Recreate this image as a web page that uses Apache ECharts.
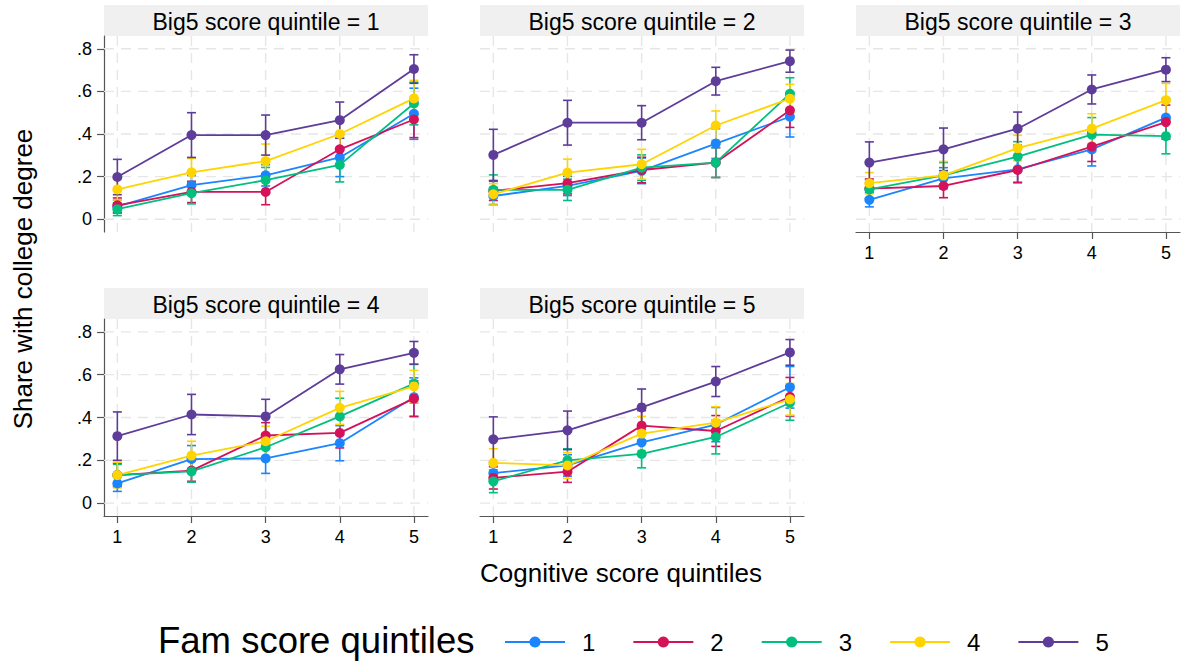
<!DOCTYPE html>
<html><head><meta charset="utf-8">
<script src="https://cdn.jsdelivr.net/npm/echarts@6/dist/echarts.min.js"></script>
<style>html,body{margin:0;padding:0;background:#fff}#c{width:1182px;height:662px}</style>
</head><body><div id="c"></div><script>
// ---- data ----
const famScore = ['1', '2', '3', '4', '5'];
const cognitive = [1, 2, 3, 4, 5];
const yTicks = [0, 0.2, 0.4, 0.6, 0.8];
const panelTitles = ['Big5 score quintile = 1', 'Big5 score quintile = 2', 'Big5 score quintile = 3', 'Big5 score quintile = 4', 'Big5 score quintile = 5'];

// means per Fam score quintile (rows 1..5), per cognitive quintile (cols 1..5)
const meanB1 = [
  [0.060, 0.160, 0.206, 0.290, 0.495],
  [0.065, 0.128, 0.128, 0.328, 0.468],
  [0.047, 0.122, 0.183, 0.255, 0.543],
  [0.140, 0.220, 0.273, 0.400, 0.567],
  [0.198, 0.395, 0.395, 0.465, 0.705]
];
const ciB1 = [
  [0.030, 0.045, 0.050, 0.090, 0.120],
  [0.035, 0.050, 0.060, 0.070, 0.085],
  [0.030, 0.050, 0.060, 0.080, 0.100],
  [0.050, 0.065, 0.080, 0.070, 0.085],
  [0.083, 0.105, 0.094, 0.085, 0.067]
];
const meanB2 = [
  [0.109, 0.156, 0.227, 0.355, 0.481],
  [0.133, 0.169, 0.231, 0.266, 0.511],
  [0.138, 0.138, 0.242, 0.266, 0.589],
  [0.117, 0.219, 0.258, 0.440, 0.566],
  [0.302, 0.453, 0.453, 0.648, 0.742]
];
const ciB2 = [
  [0.040, 0.045, 0.060, 0.070, 0.095],
  [0.045, 0.050, 0.060, 0.070, 0.080],
  [0.070, 0.050, 0.060, 0.070, 0.075],
  [0.050, 0.063, 0.070, 0.068, 0.067],
  [0.120, 0.105, 0.080, 0.065, 0.052]
];
const meanB3 = [
  [0.091, 0.192, 0.234, 0.328, 0.477],
  [0.144, 0.156, 0.231, 0.341, 0.456],
  [0.140, 0.206, 0.294, 0.397, 0.390],
  [0.169, 0.206, 0.334, 0.425, 0.559],
  [0.266, 0.328, 0.425, 0.609, 0.702]
];
const ciB3 = [
  [0.033, 0.050, 0.060, 0.078, 0.090],
  [0.045, 0.055, 0.060, 0.070, 0.080],
  [0.045, 0.060, 0.070, 0.080, 0.083],
  [0.050, 0.065, 0.060, 0.070, 0.078],
  [0.097, 0.100, 0.078, 0.068, 0.056]
];
const meanB4 = [
  [0.092, 0.206, 0.209, 0.280, 0.495],
  [0.131, 0.152, 0.316, 0.328, 0.488],
  [0.131, 0.148, 0.261, 0.405, 0.558],
  [0.131, 0.222, 0.289, 0.445, 0.545],
  [0.313, 0.414, 0.405, 0.625, 0.702]
];
const ciB4 = [
  [0.037, 0.063, 0.070, 0.082, 0.090],
  [0.055, 0.050, 0.060, 0.070, 0.083],
  [0.050, 0.050, 0.060, 0.085, 0.090],
  [0.060, 0.067, 0.070, 0.077, 0.075],
  [0.113, 0.094, 0.080, 0.069, 0.053]
];
const meanB5 = [
  [0.140, 0.176, 0.284, 0.367, 0.541],
  [0.118, 0.147, 0.362, 0.337, 0.497],
  [0.102, 0.200, 0.230, 0.309, 0.469],
  [0.188, 0.176, 0.325, 0.376, 0.485],
  [0.298, 0.340, 0.447, 0.568, 0.704]
];
const ciB5 = [
  [0.040, 0.050, 0.060, 0.080, 0.097],
  [0.052, 0.050, 0.070, 0.072, 0.090],
  [0.053, 0.054, 0.065, 0.079, 0.082],
  [0.066, 0.060, 0.080, 0.074, 0.074],
  [0.105, 0.090, 0.086, 0.070, 0.060]
];

// ---- build ----
const means = [meanB1, meanB2, meanB3, meanB4, meanB5];
const cis = [ciB1, ciB2, ciB3, ciB4, ciB5];
const FONT = '"Liberation Sans", Arial, Helvetica, sans-serif';
const colors = ['#1a85ff', '#d41159', '#00bf7f', '#ffd400', '#5e3c99'];
const axisColor = '#555555';
const gridPos = [
  {left: 104, top: 36, width: 324, height: 196},
  {left: 480, top: 36, width: 324, height: 196},
  {left: 856, top: 36, width: 324, height: 196},
  {left: 104, top: 319, width: 324, height: 197},
  {left: 480, top: 319, width: 324, height: 197}
];
const showY = [true, false, false, true, false];
const showX = [false, false, true, true, true];

const grids = [], xAxes = [], yAxes = [], series = [], graphics = [];

gridPos.forEach((p, g) => {
  grids.push(Object.assign({containLabel: false}, p));
  xAxes.push({
    type: 'value', gridIndex: g, min: 0.82, max: 5.19,
    axisLine: {show: showX[g], onZero: false, lineStyle: {color: axisColor, width: 1.2}},
    axisTick: {show: showX[g], customValues: cognitive, length: 7, lineStyle: {color: axisColor, width: 1.2}},
    axisLabel: {show: showX[g], customValues: cognitive, fontSize: 18, color: '#000', margin: 12, fontFamily: FONT},
    splitLine: {show: false}
  });
  yAxes.push({
    type: 'value', gridIndex: g, min: -0.06, max: 0.86,
    axisLine: {show: showY[g], onZero: false, lineStyle: {color: axisColor, width: 1.2}},
    axisTick: {show: showY[g], customValues: yTicks, length: 7, lineStyle: {color: axisColor, width: 1.2}},
    axisLabel: {show: showY[g], customValues: yTicks, fontSize: 18, color: '#000', margin: 12, fontFamily: FONT,
      formatter: v => (Math.abs(v) < 1e-9 ? '0' : '.' + Math.round(v * 10))},
    splitLine: {show: false}
  });

  // dashed grid lines
  const gridData = cognitive.map(x => [x, 0, 0]).concat(yTicks.map(y => [1, y, 1]));
  series.push({
    type: 'custom', name: 'gridlines', xAxisIndex: g, yAxisIndex: g, silent: true, animation: false, z: 1,
    data: gridData, clip: false,
    renderItem: (params, api) => {
      const cs = params.coordSys;
      const pt = api.coord([api.value(0), api.value(1)]);
      const style = {stroke: '#e6e6e6', lineWidth: 1.4, lineDash: [10, 7]};
      if (api.value(2) === 0) {
        return {type: 'line', shape: {x1: pt[0], y1: cs.y, x2: pt[0], y2: cs.y + cs.height}, style};
      }
      return {type: 'line', shape: {x1: cs.x, y1: pt[1], x2: cs.x + cs.width, y2: pt[1]}, style};
    }
  });

  for (let k = 0; k < 5; k++) {
    const m = means[g][k], c = cis[g][k];
    series.push({
      type: 'custom', name: 'ci' + k, xAxisIndex: g, yAxisIndex: g, silent: true, animation: false, z: 2,
      data: cognitive.map((x, i) => [x, m[i] - c[i], m[i] + c[i]]),
      encode: {x: 0, y: [1, 2]},
      renderItem: (params, api) => {
        const lo = api.coord([api.value(0), api.value(1)]);
        const hi = api.coord([api.value(0), api.value(2)]);
        const w = 4.5;
        const style = {stroke: colors[k], lineWidth: 1.6};
        return {type: 'group', children: [
          {type: 'line', shape: {x1: lo[0], y1: lo[1], x2: hi[0], y2: hi[1]}, style},
          {type: 'line', shape: {x1: lo[0] - w, y1: lo[1], x2: lo[0] + w, y2: lo[1]}, style},
          {type: 'line', shape: {x1: hi[0] - w, y1: hi[1], x2: hi[0] + w, y2: hi[1]}, style}
        ]};
      }
    });
    series.push({
      type: 'line', name: famScore[k], xAxisIndex: g, yAxisIndex: g, z: 2,
      data: cognitive.map((x, i) => [x, m[i]]),
      symbol: 'circle', symbolSize: 10, showSymbol: true, animation: false,
      lineStyle: {color: colors[k], width: 1.8},
      itemStyle: {color: colors[k]},
      emphasis: {disabled: true}
    });
  }

  // panel header
  const headTop = g < 3 ? 5 : 288;
  graphics.push({
    type: 'rect', left: p.left, top: headTop, silent: true,
    shape: {width: p.width, height: p.top - headTop},
    style: {fill: '#f0f0f0'}
  });
  graphics.push({
    type: 'text', x: p.left + p.width / 2, y: headTop + (p.top - headTop) / 2 + 1.5, silent: true,
    style: {text: panelTitles[g], fontSize: 23, fontFamily: FONT, fill: '#000', align: 'center', verticalAlign: 'middle'}
  });
});

graphics.push({
  type: 'text', x: 23, y: 279, rotation: Math.PI / 2, silent: true,
  style: {text: 'Share with college degree', fontSize: 26, fontFamily: FONT, fill: '#000', align: 'center', verticalAlign: 'middle'}
});
graphics.push({
  type: 'text', x: 621, y: 573, silent: true,
  style: {text: 'Cognitive score quintiles', fontSize: 26, fontFamily: FONT, fill: '#000', align: 'center', verticalAlign: 'middle'}
});
graphics.push({
  type: 'text', x: 158, y: 640, silent: true,
  style: {text: 'Fam score quintiles', fontSize: 36.5, fontFamily: FONT, fill: '#000', align: 'left', verticalAlign: 'middle'}
});

const chart = echarts.init(document.getElementById('c'), null, {renderer: 'svg', width: 1182, height: 662});
chart.setOption({
  backgroundColor: '#ffffff',
  animation: false,
  grid: grids,
  xAxis: xAxes,
  yAxis: yAxes,
  legend: {
    data: famScore, left: 504, top: 630, padding: 0,
    itemWidth: 60, itemHeight: 14, itemGap: 37, selectedMode: false,
    textStyle: {fontSize: 24, color: '#000', fontFamily: FONT, padding: [0, 0, 0, 12]}
  },
  graphic: graphics,
  series: series
});
</script></body></html>
